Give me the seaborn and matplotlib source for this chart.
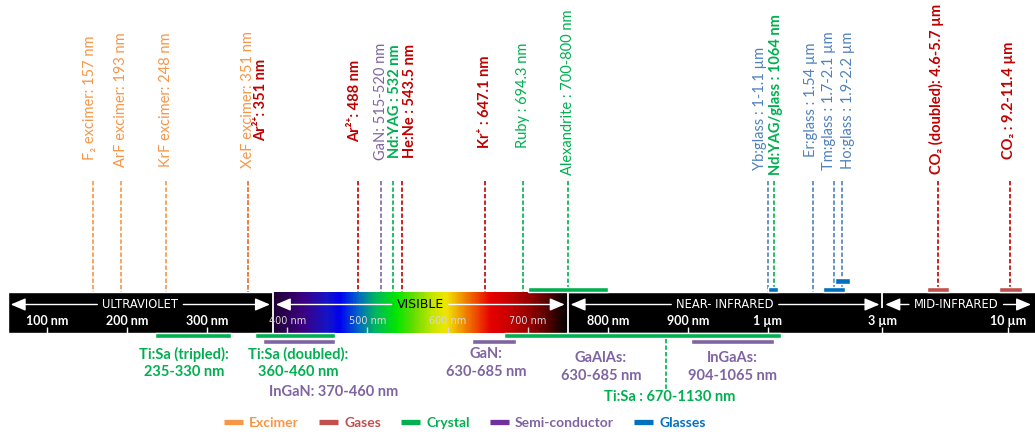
import numpy as np
import matplotlib
matplotlib.use("Agg")
import matplotlib.pyplot as plt
from matplotlib.colors import LinearSegmentedColormap, Normalize
from matplotlib.lines import Line2D
import seaborn as sns

# ---------------------------------------------------------------- data ----
tick_nm = [100, 200, 300, 400, 500, 600, 700, 800, 900, 1000, 3000, 10000]
tick_text = ["100 nm", "200 nm", "300 nm", "400 nm", "500 nm", "600 nm",
             "700 nm", "800 nm", "900 nm", "1 µm", "3 µm", "10 µm"]

region_names = ["ULTRAVIOLET", "VISIBLE", "NEAR- INFRARED", "MID-INFRARED"]
region_edges_nm = [51, 382, 750, 3000, 13500]

excimer_names = ["F₂ excimer: 157 nm", "ArF excimer: 193 nm",
                 "KrF excimer: 248 nm", "XeF excimer: 351 nm"]
excimer_nm = [157, 193, 248, 351]

gas_names = ["Ar²⁺: 351 nm", "Ar²⁺: 488 nm", "He:Ne : 543.5 nm",
             "Kr⁺ : 647.1 nm", "CO₂ (doubled): 4.6-5.7 µm",
             "CO₂ : 9.2-11.4 µm"]
gas_lo_nm = [351, 488, 543.5, 647.1, 4600, 9200]
gas_hi_nm = [351, 488, 543.5, 647.1, 5700, 11400]

crystal_names = ["Nd:YAG : 532 nm", "Ruby : 694.3 nm",
                 "Alexandrite : 700-800 nm", "Nd:YAG/glass : 1064 nm"]
crystal_lo_nm = [532, 694.3, 700, 1064]
crystal_hi_nm = [532, 694.3, 800, 1064]

semi_names = ["GaN: 515-520 nm"]
semi_lo_nm = [515]
semi_hi_nm = [520]

glass_names = ["Yb:glass : 1-1.1 µm", "Er:glass : 1.54 µm",
               "Tm:glass : 1.7-2.1 µm", "Ho:glass : 1.9-2.2 µm"]
glass_lo_nm = [1000, 1540, 1700, 1900]
glass_hi_nm = [1100, 1540, 2100, 2200]
glass_marker_nm = [1000, 1540, 1890, 2040]

band_names = ["Ti:Sa (tripled):\n235-330 nm", "Ti:Sa (doubled):\n360-460 nm",
              "Ti:Sa : 670-1130 nm", "InGaN: 370-460 nm", "GaN:\n630-685 nm",
              "GaAlAs:\n630-685 nm", "InGaAs:\n904-1065 nm"]
band_kind = ["Crystal", "Crystal", "Crystal", "Semi-conductor",
             "Semi-conductor", "Semi-conductor", "Semi-conductor"]
band_lo_nm = [235, 360, 670, 370, 630, 630, 904]
band_hi_nm = [330, 460, 1130, 460, 685, 685, 1065]

legend_names = ["Excimer", "Gases", "Crystal", "Semi-conductor", "Glasses"]

# -------------------------------------------------------------- styling ----
sns.set_theme(style="white")
plt.rcParams["font.family"] = ["Lato", "DejaVu Sans"]

ORANGE = "#F79646"
GAS_LINE = "#C00000"
GAS_BOX = "#C0504D"
GREEN = "#00B050"
PURPLE = "#8064A2"
PURPLE_KEY = "#7030A0"
GLASS_LINE = "#4F81BD"
GLASS_BOX = "#0070C0"
palette = sns.color_palette([ORANGE, GAS_BOX, GREEN, PURPLE_KEY, GLASS_BOX])
text_palette = [ORANGE, GAS_BOX, GREEN, PURPLE, GLASS_BOX]
DASH = (0, (2.6, 1.3))

# wavelength axis: linear up to 1 µm, logarithmic beyond
LIN0, LIN_SLOPE, KNEE, LOG_SLOPE = 47.0, 0.801, 1000.0, 240.0
KNEE_PX = LIN0 + LIN_SLOPE * (KNEE - 100)


def to_px(nm):
    nm = np.asarray(nm, dtype=float)
    lin = LIN0 + LIN_SLOPE * (nm - 100)
    log = KNEE_PX + LOG_SLOPE * np.log10(np.clip(nm, KNEE, 1e9) / KNEE)
    return np.where(nm <= KNEE, lin, log)


def from_px(px):
    px = np.asarray(px, dtype=float)
    lin = 100 + (px - LIN0) / LIN_SLOPE
    log = KNEE * 10 ** ((np.clip(px, KNEE_PX, 3000) - KNEE_PX) / LOG_SLOPE)
    return np.where(px <= KNEE_PX, lin, log)


def X(px):
    return float(from_px(px))


def mid_nm(lo, hi):
    return float(from_px((to_px(lo) + to_px(hi)) / 2))


fig = plt.figure(figsize=(10.35, 4.32), dpi=100)
ax = fig.add_axes([0, 0, 1, 1])
ax.set_xscale("function", functions=(to_px, from_px))
ax.set_xlim(X(0), X(1035))
ax.set_ylim(432, 0)
ax.axis("off")

BAR_TOP, BAR_BOT = 292, 333
LINE_TOP = 181
ARROW_Y = 304.5

# ------------------------------------------------------- spectrum bar ----
lo_edge, hi_edge = region_edges_nm[0], region_edges_nm[-1]
ax.barh(y=(BAR_TOP + BAR_BOT) / 2, width=hi_edge - lo_edge, left=lo_edge,
        height=BAR_BOT - BAR_TOP, color="black", zorder=1)

vis_lo, vis_hi = region_edges_nm[1], region_edges_nm[2]
stops = [(vis_lo, "#1e0032"), (419, "#3c0082"), (450, "#1414c8"),
         (465, "#0000f0"), (488, "#0064c8"), (509, "#00b464"),
         (536, "#00e600"), (557, "#64dc00"), (582, "#c8e600"),
         (599, "#f0e600"), (620, "#f08c00"), (639, "#f03c00"),
         (654, "#e60000"), (677, "#c80000"), (702, "#960000"),
         (727, "#500000"), (743, "#140000"), (vis_hi, "#080000")]
cmap = LinearSegmentedColormap.from_list(
    "spectrum",
    [((s - vis_lo) / (vis_hi - vis_lo), c) for s, c in stops])
xe = np.linspace(vis_lo, vis_hi, 400)
xc = (xe[:-1] + xe[1:]) / 2
ax.pcolormesh(xe, [BAR_TOP, BAR_BOT], xc[None, :], cmap=cmap,
              norm=Normalize(vis_lo, vis_hi), shading="flat", zorder=1.5)

for edge in region_edges_nm[1:-1]:
    # a boundary that carries a tick stops at the arrow line
    bottom = ARROW_Y + 3 if edge in tick_nm else BAR_BOT
    ax.vlines(edge, BAR_TOP, bottom, colors="white", lw=1.3, zorder=3)

for v, t in zip(tick_nm, tick_text):
    in_vis = vis_lo < v < vis_hi
    col = "#d8d8d8" if in_vis else "white"
    ax.vlines(v, 327, BAR_BOT, colors=col, lw=1.0, zorder=3)
    if in_vis:
        ax.text(v, 321, t, ha="center", va="center", color=col,
                fontsize=7, family="DejaVu Sans", zorder=4)
    else:
        ax.text(v, 321, t, ha="center", va="center", color=col,
                fontsize=9, fontweight="bold", zorder=4)

fig.canvas.draw()
renderer = fig.canvas.get_renderer()
for i, name in enumerate(region_names):
    a, b = region_edges_nm[i], region_edges_nm[i + 1]
    pa, pb = float(to_px(a)), float(to_px(b))
    col = "black" if i == 1 else "white"
    t = ax.text(X((pa + min(pb, 1030)) / 2), ARROW_Y, name, ha="center",
                va="center", color=col, fontsize=9 if i == 1 else 8.3,
                family="DejaVu Sans", zorder=4)
    bb = t.get_window_extent(renderer)
    right_tip = min(pb - 3, 1031)
    arrow = dict(arrowstyle="-|>,head_length=0.75,head_width=0.32",
                 color="white", lw=1.0, shrinkA=0, shrinkB=0)
    ax.annotate("", xy=(X(pa + 3), ARROW_Y), xytext=(X(bb.x0 - 5), ARROW_Y),
                arrowprops=arrow, zorder=4)
    ax.annotate("", xy=(X(right_tip), ARROW_Y),
                xytext=(X(bb.x1 + 5), ARROW_Y), arrowprops=arrow, zorder=4)


# ------------------------------------------------ lines above the bar ----
def marker_line(x_nm, color, zorder=2):
    ax.vlines(x_nm, LINE_TOP, BAR_TOP, colors=color, linestyles=[DASH],
              lw=1.2, zorder=zorder)


def top_box(lo, hi, color, tier=0):
    yc = 289.5 - tier * 8.5
    ax.barh(y=yc, width=hi - lo, left=lo, height=5.2, color=color, zorder=3)


def top_label(x_nm, dx, yc, text, color, weight="normal"):
    ax.text(X(float(to_px(x_nm)) + dx), yc, text, rotation=90, ha="center",
            va="center", color=color, fontsize=10.5, fontweight=weight)


# excimer
exc_dx = [-3, 0, 0, 0]
exc_y = [98, 100, 100, 100]
for n, v, dx, yc in zip(excimer_names, excimer_nm, exc_dx, exc_y):
    marker_line(v, ORANGE, zorder=2.5)
    top_label(v, dx, yc, n, ORANGE)

# gases
gas_dx = [13, -3, 8, 0, -2, -1]
gas_y = [100, 101, 101, 102, 89, 100]
for n, lo, hi, dx, yc in zip(gas_names, gas_lo_nm, gas_hi_nm, gas_dx, gas_y):
    x = mid_nm(lo, hi)
    marker_line(x, GAS_LINE)
    if hi > lo:
        top_box(lo, hi, GAS_BOX)
    top_label(x, dx, yc, n, GAS_LINE, "bold")

# crystals
cr_dx = [2, 0, 0, 2]
cr_y = [101, 95, 92, 95]
cr_w = ["bold", "normal", "normal", "bold"]
for n, lo, hi, dx, yc, w in zip(crystal_names, crystal_lo_nm, crystal_hi_nm,
                                 cr_dx, cr_y, cr_w):
    x = mid_nm(lo, hi)
    marker_line(x, GREEN)
    if hi > lo:
        top_box(lo, hi, GREEN)
    top_label(x, dx, yc, n, GREEN, w)

# semiconductor
for n, lo, hi in zip(semi_names, semi_lo_nm, semi_hi_nm):
    x = mid_nm(lo, hi)
    marker_line(x, PURPLE)
    top_label(x, 0, 101, n, PURPLE)

# glasses
gl_dx = [-8, -2, -5, 6]
gl_y = [108, 100, 101, 100]
gl_tier = [0, 0, 0, 1]
for n, lo, hi, m, dx, yc, tier in zip(glass_names, glass_lo_nm, glass_hi_nm,
                                      glass_marker_nm, gl_dx, gl_y, gl_tier):
    marker_line(m, GLASS_LINE)
    if hi > lo:
        top_box(lo, hi, GLASS_BOX, tier)
    top_label(m, dx, yc, n, GLASS_LINE)

# ------------------------------------------------ bands below the bar ----
band_row = {"Crystal": 335.5, "Semi-conductor": 341.3}
band_color = {"Crystal": GREEN, "Semi-conductor": PURPLE}
band_label_px = [(184, 363), (298, 363), (670, 397), (334, 392),
                 (486, 363), (601, 367), (732, 367)]
for n, k, lo, hi, (lx, ly) in zip(band_names, band_kind, band_lo_nm,
                                   band_hi_nm, band_label_px):
    ax.barh(y=band_row[k], width=hi - lo, left=lo, height=4.8,
            color=band_color[k], zorder=2)
    ax.text(X(lx), ly, n, ha="center", va="center", color=band_color[k],
            fontsize=10.5, fontweight="bold", linespacing=1.3)

# leader for the broad Ti:Sa band
ax.vlines(X(665.5), 339, 389, colors=GREEN, linestyles=[DASH], lw=1.2)

# --------------------------------------------------------------- legend ----
handles = [Line2D([], [], color=c, lw=3.8, solid_capstyle="butt")
           for c in palette]
leg = ax.legend(handles, legend_names, loc="center",
                bbox_to_anchor=(465 / 1035, 1 - 423 / 432), ncol=5,
                frameon=False, handlelength=1.35, handletextpad=0.45,
                columnspacing=1.45, prop={"weight": "bold", "size": 10})
for txt, c in zip(leg.get_texts(), text_palette):
    txt.set_color(c)

fig.savefig("out.png", dpi=100)
